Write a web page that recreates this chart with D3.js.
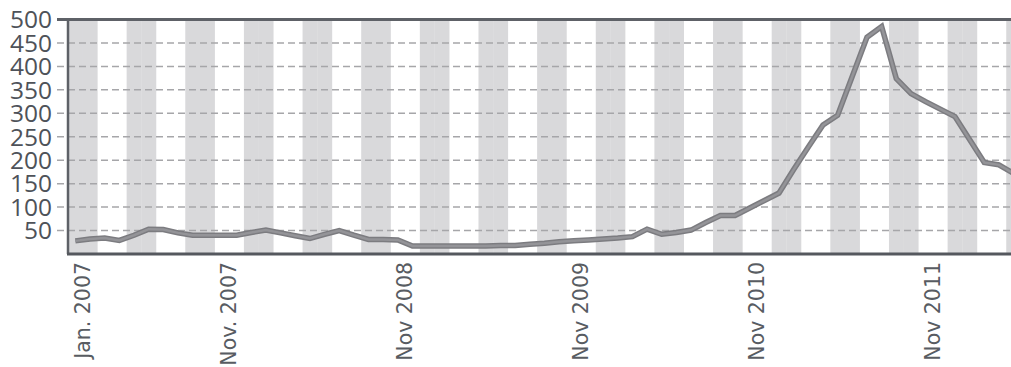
<!DOCTYPE html>
<meta charset="utf-8">
<style>
  body { margin: 0; background: #fff; }
  .ylab { font-family: "Open Sans", sans-serif; font-size: 24.5px; fill: #4e5259; }
  .xlab { font-family: "DejaVu Sans", sans-serif; font-size: 20.5px; fill: #585c62; }
</style>
<body>
<div id="chart"></div>
<script src="https://d3js.org/d3.v7.min.js"></script>
<script>

// Data: one value per month, Jan 2007 onwards
var startMonth = "2007-01";
var values = [28, 32, 34, 29, 40, 53, 52, 45, 40, 40,
              40, 40, 46, 51, 45, 39, 33, 42, 50, 40,
              31, 31, 30, 17, 17, 17, 17, 17, 17, 18,
              18, 21, 23, 26, 28, 30, 32, 34, 37, 53,
              42, 46, 51, 67, 82, 82, 98, 114, 130, 180,
              228, 275, 296, 379, 462, 485, 374, 342, 325, 309,
              293, 244, 195, 190, 172];
var tickMonths = ["2007-01", "2007-11", "2008-11", "2009-11", "2010-11", "2011-11"];
var tickLabels = ["Jan. 2007", "Nov. 2007", "Nov 2008", "Nov 2009", "Nov 2010", "Nov 2011"];
var yTicks = [50, 100, 150, 200, 250, 300, 350, 400, 450, 500];

var W = 1011, H = 367;
var plotLeft = 68, plotTop = 19.5, plotBottom = 254, monthW = 14.66;

var parseMonth = d3.timeParse("%Y-%m");
var fmt = d3.timeFormat("%Y-%m");
var t0 = parseMonth(startMonth);
var months = values.map(function(v, i) { return fmt(d3.timeMonth.offset(t0, i)); });
var data = months.map(function(m, i) { return {month: m, idx: i, value: values[i]}; });

var x = d3.scaleBand()
    .domain(months)
    .range([plotLeft, plotLeft + monthW * months.length])
    .padding(0);
var y = d3.scaleLinear().domain([0, 500]).range([plotBottom, plotTop]);

var svg = d3.select("#chart").append("svg")
    .attr("width", W)
    .attr("height", H);

// alternating stripes, two months wide
svg.append("g").selectAll("rect")
    .data(data.filter(function(d) { return Math.floor(d.idx / 2) % 2 == 0; }))
    .enter().append("rect")
    .attr("x", function(d) { return x(d.month); })
    .attr("y", plotTop)
    .attr("width", x.bandwidth() + 0.3)
    .attr("height", plotBottom - plotTop)
    .attr("fill", "#d9d9db");

// dashed grid
svg.append("g").selectAll("line")
    .data(yTicks.filter(function(v) { return v < 500; }))
    .enter().append("line")
    .attr("x1", 57).attr("x2", W)
    .attr("y1", function(d) { return y(d); })
    .attr("y2", function(d) { return y(d); })
    .attr("stroke", "#a6a6a9")
    .attr("stroke-width", 1.5)
    .attr("stroke-dasharray", "7,4");

// frame
svg.append("line")
    .attr("x1", 57).attr("x2", W)
    .attr("y1", y(500)).attr("y2", y(500))
    .attr("stroke", "#5e6167").attr("stroke-width", 3);
svg.append("line")
    .attr("x1", plotLeft).attr("x2", plotLeft)
    .attr("y1", y(500)).attr("y2", plotBottom)
    .attr("stroke", "#5e6167").attr("stroke-width", 2.5);
svg.append("line")
    .attr("x1", plotLeft - 1).attr("x2", W)
    .attr("y1", plotBottom).attr("y2", plotBottom)
    .attr("stroke", "#55585e").attr("stroke-width", 3);

// y labels
svg.append("g").selectAll("text")
    .data(yTicks)
    .enter().append("text")
    .attr("class", "ylab")
    .attr("x", 52)
    .attr("y", function(d) { return y(d); })
    .attr("dy", "0.36em")
    .attr("text-anchor", "end")
    .text(function(d) { return d; });

// x labels
svg.append("g").selectAll("text")
    .data(tickMonths)
    .enter().append("text")
    .attr("class", "xlab")
    .attr("text-anchor", "end")
    .attr("dy", "0.36em")
    .attr("transform", function(d) {
      return "translate(" + (x(d) + x.bandwidth() / 2 + 7) + ",262) rotate(-90)";
    })
    .text(function(d, i) { return tickLabels[i]; });

// the line
var line = d3.line()
    .x(function(d) { return x(d.month) + x.bandwidth() / 2; })
    .y(function(d) { return y(d.value); });

svg.append("path")
    .datum(data)
    .attr("d", line)
    .attr("fill", "none")
    .attr("stroke", "#7c7c80")
    .attr("stroke-width", 5.5);
svg.append("path")
    .datum(data)
    .attr("d", line)
    .attr("fill", "none")
    .attr("stroke", "#949498")
    .attr("stroke-width", 2.5);

</script>
</body>
